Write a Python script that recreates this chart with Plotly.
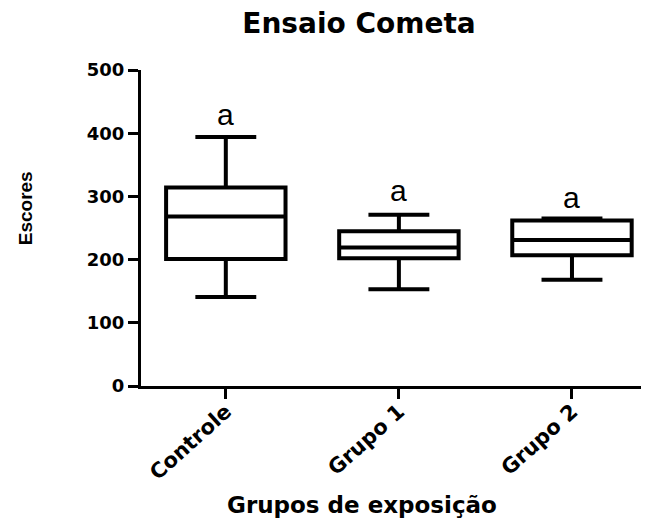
import plotly.graph_objects as go

categories = ["Controle", "Grupo 1", "Grupo 2"]
lower_whisker = [141, 153, 168]
q1_values = [201, 202, 207]
median_values = [268, 219, 231]
q3_values = [314, 245, 262]
upper_whisker = [394, 271, 265]
letters = ["a", "a", "a"]
letter_y = [429, 310, 299]
y_ticks = [0, 100, 200, 300, 400, 500]

BOLD = "DejaVu Sans"
OFF = 8  # page body margin
W, H = 649 - OFF, 524 - OFF

fig = go.Figure()
for i, c in enumerate(categories):
    fig.add_trace(go.Box(
        x=[c], q1=[q1_values[i]], median=[median_values[i]], q3=[q3_values[i]],
        lowerfence=[lower_whisker[i]], upperfence=[upper_whisker[i]],
        width=0.69, whiskerwidth=0.51,
        line=dict(color="black", width=4), fillcolor="rgba(255,255,255,0)",
        boxpoints=False, showlegend=False, hoverinfo="skip",
    ))

for c, t, y in zip(categories, letters, letter_y):
    fig.add_annotation(x=c, y=y, text=t, showarrow=False, yanchor="middle",
                       font=dict(family="Liberation Sans, Arial", size=30, color="black"))

fig.add_annotation(xref="paper", yref="paper", x=-0.228, y=0.563, text="Escores",
                   textangle=-90, showarrow=False, xanchor="center", yanchor="middle",
                   font=dict(family="Liberation Sans, Arial", size=19, color="black", weight="bold"))
fig.add_annotation(xref="paper", yref="paper", x=0.435, y=-0.377, text="Grupos de exposição",
                   showarrow=False, yanchor="middle",
                   font=dict(family=BOLD, size=23, color="black", weight="bold"))

fig.update_layout(
    width=W, height=H,
    margin=dict(l=141 - OFF, r=0, t=70 - OFF, b=H - (70 - OFF) - 316, autoexpand=False),
    paper_bgcolor="white", plot_bgcolor="white",
    title=dict(text="Ensaio Cometa", x=(359 - OFF) / W, xref="container",
               xanchor="center", y=1 - (23 - OFF) / H, yref="container", yanchor="middle",
               font=dict(family=BOLD, size=28, color="black", weight="bold")),
    xaxis=dict(
        type="category", range=[-0.49, 2.445], showgrid=False, zeroline=False,
        showline=True, linecolor="black", linewidth=3, automargin=False,
        ticks="outside", ticklen=10, tickwidth=3, tickcolor="black",
        tickangle=-42, ticklabelstandoff=-8,
        tickfont=dict(family=BOLD, size=21, color="black", weight="bold"),
    ),
    yaxis=dict(
        range=[0, 500], tickvals=y_ticks, showgrid=False, zeroline=False,
        showline=True, linecolor="black", linewidth=3, automargin=False,
        ticks="outside", ticklen=10, tickwidth=3, tickcolor="black",
        tickfont=dict(family=BOLD, size=18, color="black", weight="bold"),
    ),
)

fig.write_html("out.html")
